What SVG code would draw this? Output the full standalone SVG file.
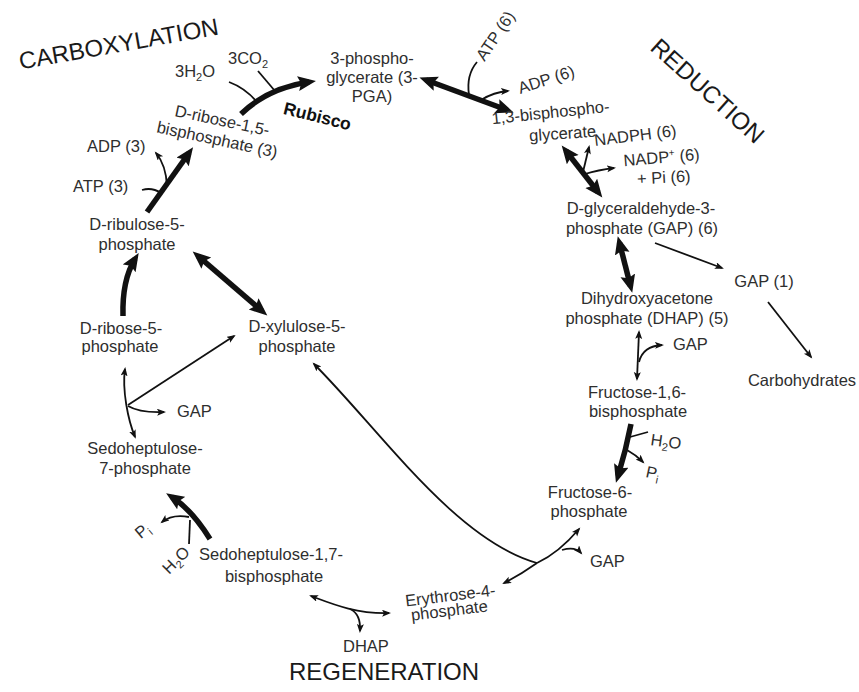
<svg xmlns="http://www.w3.org/2000/svg" width="859" height="692" viewBox="0 0 859 692">
<style>
text { font-family: "Liberation Sans", Arial, sans-serif; font-size: 16.5px; fill: #2e2e2e; }
.m { text-anchor: middle; }
.phase { font-size: 24px; fill: #1a1a1a; }
.bold { font-weight: bold; font-size: 17.5px; fill: #111; }
.sub { font-size: 11px; }
.thick { fill: none; stroke: #111; stroke-width: 5.5; }
.thin { fill: none; stroke: #111; stroke-width: 1.8; }
.eb { marker-end: url(#hb); }
.db { marker-start: url(#hb); marker-end: url(#hb); }
.es { marker-end: url(#hs); }
.ds { marker-start: url(#hs); marker-end: url(#hs); }
</style>
<defs>
<marker id="hb" markerUnits="userSpaceOnUse" markerWidth="20" markerHeight="16" refX="11" refY="7.5" orient="auto-start-reverse"><path d="M0,0 L18,7.5 L0,15 L3,7.5 z" fill="#111"/></marker>
<marker id="hs" markerUnits="userSpaceOnUse" markerWidth="11" markerHeight="8" refX="7" refY="3.5" orient="auto-start-reverse"><path d="M0,0 L9,3.5 L0,7 L2,3.5 z" fill="#111"/></marker>
</defs>
<rect width="859" height="692" fill="#fff"/>

<g id="phases">
<text class="phase m" transform="translate(120,52) rotate(-10)">CARBOXYLATION</text>
<text class="phase m" transform="translate(702,97) rotate(42)">REDUCTION</text>
<text class="phase m" x="384" y="680">REGENERATION</text>
</g>

<g id="connectors">
<!-- Rubisco carboxylation -->
<path class="thick eb" d="M241,114 Q268,88 309,82"/>
<path class="thin" d="M229,82 Q245,88 256,101"/>
<path class="thin" d="M258,71 L275,91"/>
<!-- 3PGA <-> 1,3BPG -->
<path class="thick db" d="M426,80 L507,110"/>
<path class="thin" d="M477,62 Q466,75 469,95"/>
<path class="thin es" d="M481,100 Q494,92 508,91"/>
<!-- 1,3BPG <-> GAP -->
<path class="thick db" d="M566,151 L598,192"/>
<path class="thin es" d="M583,172 L589,147"/>
<path class="thin es" d="M585,174 Q598,170 614,168"/>
<!-- GAP <-> DHAP -->
<path class="thick db" d="M619.5,243 L630.5,286"/>
<path class="thin es" d="M655,243 L722,268"/>
<path class="thin es" d="M768,302 L811,357"/>
<!-- DHAP <-> F1,6BP -->
<path class="thin ds" d="M639,332 L637,379"/>
<path class="thin es" d="M639,362 Q643,346 662,345"/>
<!-- F1,6BP -> F6P -->
<path class="thick eb" d="M631,424 Q626,450 618,476"/>
<path class="thin" d="M630,437 L648,432"/>
<path class="thin es" d="M627,450 Q636,455 643,462"/>
<!-- central transketolase junction -->
<path class="thin es" d="M537,563 C455,540 380,430 314,364"/>
<path class="thin es" d="M537,563 C552,556 568,542 579,529"/>
<path class="thin es" d="M562,550 Q575,546 581,553"/>
<path class="thin es" d="M537,563 Q520,575 504,583"/>
<!-- S1,7BP <-> E4P -->
<path class="thin ds" d="M311,596 C330,603 355,614 389,613"/>
<path class="thin es" d="M350,609 Q361,614 360,631"/>
<!-- S1,7BP -> S7P -->
<path class="thick eb" d="M210,539 Q192,510 172,497"/>
<path class="thin es" d="M189,517 Q172,514 162,522"/>
<path class="thin" d="M189,544 L190,520"/>
<!-- S7P junction -->
<path class="thin ds" d="M125,369 C122,390 128,420 135,437"/>
<path class="thin es" d="M128,406 Q140,413 164,412"/>
<path class="thin es" d="M128,405 L234,336"/>
<!-- R5P -> Ru5P -->
<path class="thick eb" d="M123,316 Q122,280 135,259"/>
<!-- Ru5P <-> Xu5P -->
<path class="thick db" d="M198,256 L262,311"/>
<!-- Ru5P -> RuBP -->
<path class="thick eb" d="M147,212 L189,153"/>
<path class="thin" d="M142,190 Q152,187 161,193"/>
<path class="thin es" d="M167,186 Q166,165 156,153"/>
</g>

<g id="n-3pga">
<text class="m" x="372" y="64">3-phospho-</text>
<text class="m" x="372" y="83">glycerate (3-</text>
<text class="m" x="372" y="102">PGA)</text>
</g>
<g id="n-rubp">
<text class="m" transform="translate(221,126) rotate(12)">D-ribose-1,5-</text>
<text class="m" transform="translate(216,145) rotate(12)">bisphosphate (3)</text>
</g>
<g id="n-rubisco"><text class="bold m" transform="translate(316,122) rotate(14)">Rubisco</text></g>
<g id="n-h2o-3"><text x="175" y="77">3H<tspan class="sub" dy="4">2</tspan><tspan dy="-4">O</tspan></text></g>
<g id="n-co2"><text x="228" y="64">3CO<tspan class="sub" dy="4">2</tspan></text></g>
<g id="n-atp6"><text class="m" transform="translate(500,39) rotate(-56)">ATP (6)</text></g>
<g id="n-adp6"><text class="m" transform="translate(548,85) rotate(-18)">ADP (6)</text></g>
<g id="n-bpg">
<text class="m" transform="translate(551,118) rotate(-6)">1,3-bisphospho-</text>
<text class="m" transform="translate(563,139) rotate(-4)">glycerate</text>
</g>
<g id="n-nadph"><text class="m" transform="translate(636,141) rotate(-7)">NADPH (6)</text></g>
<g id="n-nadp">
<text class="m" transform="translate(662,163) rotate(-5)">NADP<tspan font-size="10" dy="-6">+</tspan><tspan dy="6"> (6)</tspan></text>
<text class="m" transform="translate(664,183) rotate(-3)">+ Pi (6)</text>
</g>
<g id="n-gap6">
<text class="m" x="641" y="214">D-glyceraldehyde-3-</text>
<text class="m" x="642" y="234">phosphate (GAP) (6)</text>
</g>
<g id="n-gap1"><text class="m" x="764" y="287">GAP (1)</text></g>
<g id="n-carb"><text class="m" x="802" y="386">Carbohydrates</text></g>
<g id="n-dhap5">
<text class="m" x="647" y="304">Dihydroxyacetone</text>
<text class="m" x="647" y="324">phosphate (DHAP) (5)</text>
</g>
<g id="n-gap-a"><text x="673" y="350">GAP</text></g>
<g id="n-fbp">
<text class="m" x="637" y="398">Fructose-1,6-</text>
<text class="m" x="638" y="417">bisphosphate</text>
</g>
<g id="n-h2o-f"><text transform="translate(650,445) rotate(8)">H<tspan class="sub" dy="4">2</tspan><tspan dy="-4">O</tspan></text></g>
<g id="n-pi-f"><text transform="translate(645,477) rotate(12)">P<tspan class="sub" dy="4">i</tspan></text></g>
<g id="n-f6p">
<text class="m" x="590" y="498">Fructose-6-</text>
<text class="m" x="589" y="517">phosphate</text>
</g>
<g id="n-gap-b"><text x="590" y="567">GAP</text></g>
<g id="n-e4p">
<text class="m" transform="translate(451,601) rotate(-7)">Erythrose-4-</text>
<text class="m" transform="translate(450,616) rotate(-7)">phosphate</text>
</g>
<g id="n-dhap"><text x="343" y="652">DHAP</text></g>
<g id="n-sbp">
<text class="m" x="271" y="560">Sedoheptulose-1,7-</text>
<text class="m" x="274" y="582">bisphosphate</text>
</g>
<g id="n-h2o-s"><text class="m" transform="translate(180,564) rotate(-45)">H<tspan class="sub" dy="4">2</tspan><tspan dy="-4">O</tspan></text></g>
<g id="n-pi-s"><text class="m" transform="translate(146,535) rotate(-40)">P<tspan class="sub" dy="4">i</tspan></text></g>
<g id="n-s7p">
<text class="m" x="145" y="454">Sedoheptulose-</text>
<text class="m" x="145" y="474">7-phosphate</text>
</g>
<g id="n-gap-c"><text x="177" y="417">GAP</text></g>
<g id="n-r5p">
<text class="m" x="121" y="334">D-ribose-5-</text>
<text class="m" x="120" y="352">phosphate</text>
</g>
<g id="n-xu5p">
<text class="m" x="297" y="332">D-xylulose-5-</text>
<text class="m" x="297" y="352">phosphate</text>
</g>
<g id="n-ru5p">
<text class="m" x="137" y="230">D-ribulose-5-</text>
<text class="m" x="137" y="250">phosphate</text>
</g>
<g id="n-atp3"><text x="73" y="192">ATP (3)</text></g>
<g id="n-adp3"><text x="87" y="152">ADP (3)</text></g>
</svg>
